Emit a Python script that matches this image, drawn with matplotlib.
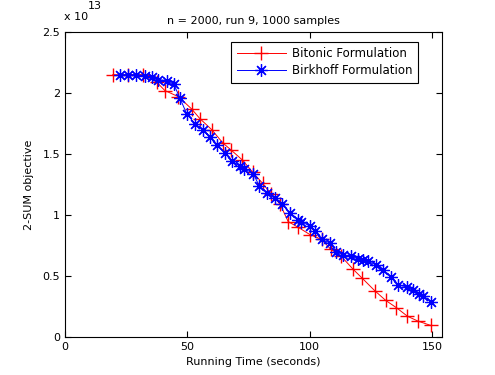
import matplotlib
matplotlib.use("Agg")
import matplotlib.pyplot as plt

# values in units of 1e13
bitonic_x = [19.5, 25.9, 32, 37.4, 40.8, 46.3, 51.7, 55.1, 59.9, 64.5, 68, 72.5, 76.7, 80.7,
             84.3, 87.8, 91.2, 95.2, 100, 104.8, 108.5, 112.9, 117.7, 121.5, 126.5, 131,
             135.4, 139.9, 144.2, 149.4]
bitonic_y = [2.15, 2.15, 2.15, 2.09, 2.02, 1.97, 1.87, 1.79, 1.70, 1.59, 1.53, 1.45, 1.35, 1.26,
             1.17, 1.09, 0.945, 0.90, 0.84, 0.80, 0.72, 0.66, 0.555, 0.48, 0.38, 0.30,
             0.24, 0.17, 0.13, 0.095]

birkhoff_x = [22.4, 25.9, 29.2, 32.7, 35.4, 38.1, 41.5, 44.5, 46.9, 49.7, 53, 56.2, 59.2, 62.2,
              65.4, 68.4, 71.4, 73.2, 76.9, 79.3, 82.6, 85.7, 88.6, 91.8, 95.2, 96.6, 100, 102,
              104.8, 108.2, 110.9, 113.6, 117, 119.7, 121.8, 123.8, 127.2, 129.9, 133.3, 136,
              139.5, 142.2, 144.6, 146.3, 149.4]
birkhoff_y = [2.15, 2.15, 2.15, 2.14, 2.13, 2.11, 2.10, 2.07, 1.96, 1.83, 1.75, 1.70, 1.64, 1.57,
              1.51, 1.44, 1.40, 1.38, 1.34, 1.24, 1.18, 1.14, 1.09, 1.02, 0.96, 0.945, 0.91, 0.87,
              0.80, 0.77, 0.70, 0.67, 0.66, 0.64, 0.63, 0.62, 0.59, 0.55, 0.49, 0.43,
              0.41, 0.385, 0.35, 0.34, 0.29]

xticks = [0, 50, 100, 150]
yticks = [0, 0.5, 1, 1.5, 2, 2.5]
ytick_labels = ["0", "0.5", "1", "1.5", "2", "2.5"]

plt.rcParams['font.family'] = ['DejaVu Sans']
fig = plt.figure(figsize=(4.95, 3.75), dpi=100)
ax = fig.add_axes([65/495, 38/375, 377/495, 305/375])

ax.plot(bitonic_x, bitonic_y, color='red', marker='+', markersize=10, markeredgewidth=1.0,
        linewidth=0.7, label='Bitonic Formulation')
ax.plot(birkhoff_x, birkhoff_y, color='blue', marker=(8, 2, 0), markersize=9, markeredgewidth=0.9,
        linewidth=0.7, label='Birkhoff Formulation')

ax.set_xlim(0, 154)
ax.set_ylim(0, 2.5)
ax.set_xticks(xticks)
ax.set_xticklabels([str(t) for t in xticks])
ax.set_yticks(yticks)
ax.set_yticklabels(ytick_labels)
ax.tick_params(direction='in', top=True, right=True, labelsize=8, length=4, width=0.8)
for s in ax.spines.values():
    s.set_linewidth(0.8)

ax.set_title('n = 2000, run 9, 1000 samples', fontsize=8, pad=6)
ax.set_xlabel('Running Time (seconds)', fontsize=8, labelpad=4)
ax.set_ylabel('2-SUM objective', fontsize=8, labelpad=6)
fig.text(64/495, 1 - 20/375, 'x 10', fontsize=8, ha='left', va='baseline')
fig.text(88/495, 1 - 9/375, '13', fontsize=8, ha='left', va='baseline')

leg = ax.legend(loc='upper right', bbox_to_anchor=((418-65)/377, (337-42)/305),
                fontsize=8.5, fancybox=False, edgecolor='black', framealpha=1,
                borderaxespad=0, handlelength=4.2, borderpad=0.45, labelspacing=0.35,
                handletextpad=0.5)
leg.get_frame().set_linewidth(0.8)

fig.savefig('out.png', dpi=100)
